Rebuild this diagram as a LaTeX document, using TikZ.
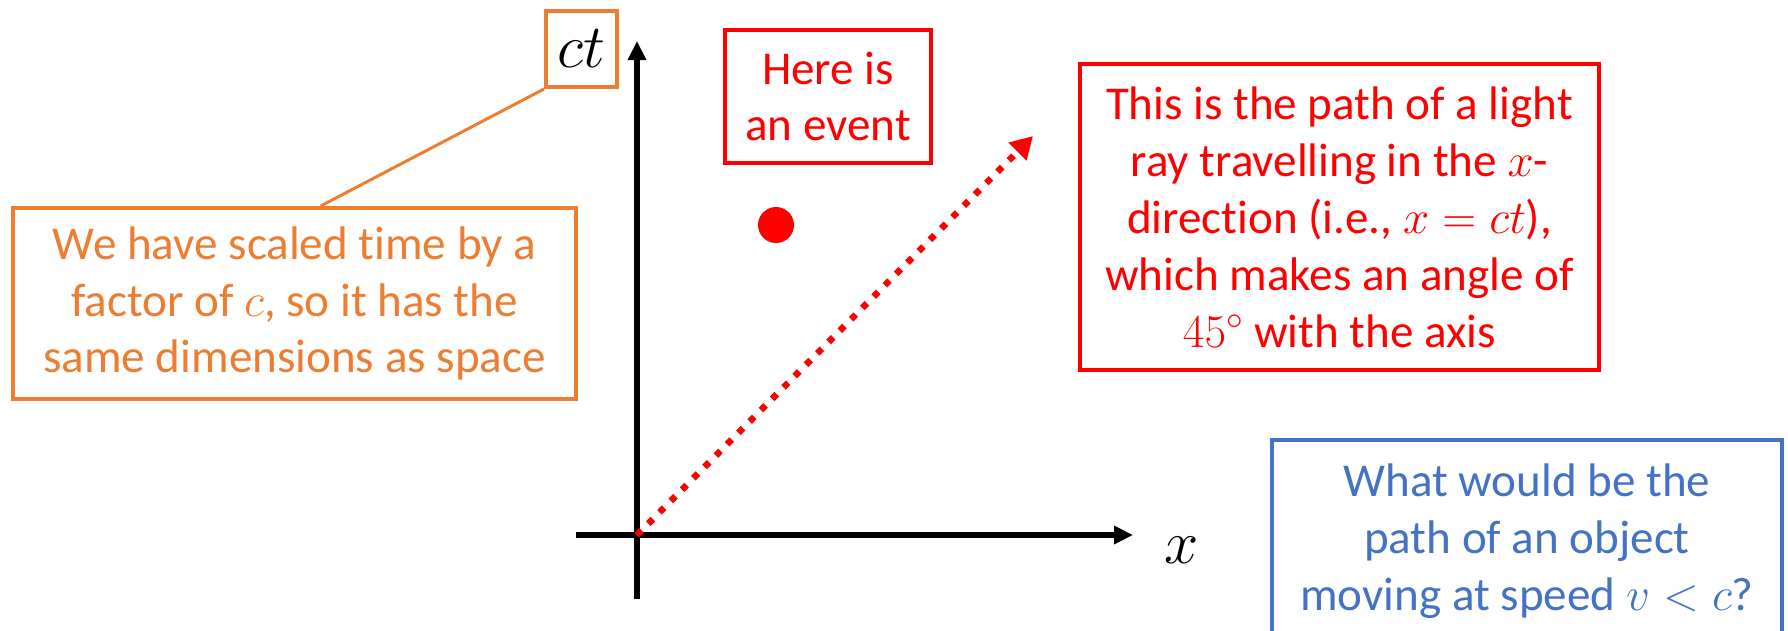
\RequirePackage{fix-cm}
\documentclass[tikz,border=0pt]{standalone}
\usepackage{fontspec}
\setmainfont{Carlito}[Ligatures=NoCommon]
\usetikzlibrary{arrows.meta,calc}
\definecolor{oorange}{HTML}{ED7D31}
\definecolor{oblue}{HTML}{4472C4}
\definecolor{ored}{HTML}{FF0000}
\begin{document}
\begin{tikzpicture}[x=0.02cm,y=-0.02cm,
  txt/.style={font=\fontsize{26.8}{32.4}\selectfont, align=center, inner sep=0pt},
  boxed/.style={txt, draw, line width=0.08cm},
  axisline/.style={line width=0.12cm, -{Triangle[length=0.38cm,width=0.35cm]}},
  mathlbl/.style={font=\fontsize{35}{40}\selectfont, inner sep=0pt},
]
\useasboundingbox (0,0) rectangle (1788,630);
\clip (0,0) rectangle (1788,630);

% axes
\coordinate (O) at (637,535);
\coordinate (ybot) at (637,599);
\coordinate (ytop) at (637,41);
\coordinate (xleft) at (576,535);
\coordinate (xright) at (1133,535);
\draw[axisline] (ybot) -- (ytop);
\draw[axisline] (xleft) -- (xright);

% axis labels
\node[mathlbl] (xl) at (1182,550) {$x$};
\node[mathlbl, draw=oorange, line width=0.08cm, minimum width=1.42cm, minimum height=1.52cm] (ct) at (581.5,49) {$ct$};

% orange box
\node[boxed, draw=oorange, text=oorange, minimum width=11.26cm, minimum height=3.82cm] (ob) at (294.5,303.5)
  {We have scaled time by a\\ factor of $c$, so it has the\\ same dimensions as space};
\draw[oorange, line width=0.06cm] (ct.south west) -- ($(ob.north west)!0.546!(ob.north east)$);

% event
\node[boxed, draw=ored, text=ored, minimum width=4.12cm, minimum height=2.66cm] (ev) at (828,96.5)
  {Here is\\ an event};
\node[circle, fill=ored, minimum size=0.72cm, inner sep=0pt] (dot) at (776,225) {};

% light ray
\coordinate (tip) at (1033,136);
\draw[ored, line width=0.13cm, dash pattern=on 0.13cm off 0.19cm,
  -{Triangle[length=0.44cm,width=0.48cm]}] (O) -- (tip);

% red box
\node[boxed, draw=ored, text=ored, minimum width=10.38cm, minimum height=6.12cm] (rb) at (1339.5,217)
  {This is the path of a light\\ ray travelling in the $x$-\\ direction (i.e., $x=ct$),\\ which makes an angle of\\ $45^\circ$ with the axis};

% blue box
\node[boxed, draw=oblue, text=oblue, minimum width=10.2cm, minimum height=4.04cm] (bb) at (1527,541)
  {What would be the\\ path of an object\\ moving at speed $v<c$?};
\end{tikzpicture}
\end{document}
